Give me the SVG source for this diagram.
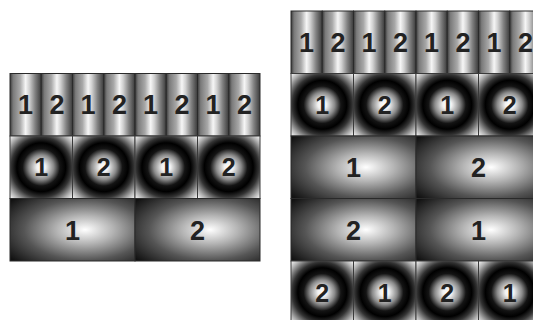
<svg xmlns="http://www.w3.org/2000/svg" width="533" height="320" viewBox="0 0 533 320">
<defs>
<linearGradient id="stripe" x1="0" y1="0" x2="1" y2="0">
<stop offset="0" stop-color="#3a3a3a"/>
<stop offset="0.1" stop-color="#7a7a7a"/>
<stop offset="0.32" stop-color="#a8a8a8"/>
<stop offset="0.5" stop-color="#f6f6f6"/>
<stop offset="0.62" stop-color="#d0d0d0"/>
<stop offset="0.8" stop-color="#828282"/>
<stop offset="1" stop-color="#3a3a3a"/>
</linearGradient>
<radialGradient id="ring" cx="0.5" cy="0.5" r="0.71">
<stop offset="0" stop-color="#ffffff"/>
<stop offset="0.1" stop-color="#f2f2f2"/>
<stop offset="0.28" stop-color="#8a8a8a"/>
<stop offset="0.42" stop-color="#141414"/>
<stop offset="0.55" stop-color="#000000"/>
<stop offset="0.68" stop-color="#333333"/>
<stop offset="0.86" stop-color="#b0b0b0"/>
<stop offset="1" stop-color="#ffffff"/>
</radialGradient>
<radialGradient id="glow" cx="0.6" cy="0.5" r="0.75">
<stop offset="0" stop-color="#ffffff"/>
<stop offset="0.3" stop-color="#b4b4b4"/>
<stop offset="0.65" stop-color="#555555"/>
<stop offset="1" stop-color="#121212"/>
</radialGradient>
</defs>
<style>
.s{fill:url(#stripe);stroke:#2a2a2a;stroke-width:1}
.c{fill:url(#ring);stroke:#3a3a3a;stroke-width:1}
.g{fill:url(#glow);stroke:#2a2a2a;stroke-width:1}
text{font-family:"Liberation Sans",Arial,sans-serif;font-weight:bold;fill:#222;text-anchor:middle}
.t{font-size:27px}
.tc{font-size:25px}
</style>

<g id="left-diagram">
<g id="L-stripes">
<rect class="s" x="10" y="73.5" width="31.25" height="62.5"/><text class="t" x="25.6" y="114">1</text>
<rect class="s" x="41.25" y="73.5" width="31.25" height="62.5"/><text class="t" x="56.9" y="114">2</text>
<rect class="s" x="72.5" y="73.5" width="31.25" height="62.5"/><text class="t" x="88.1" y="114">1</text>
<rect class="s" x="103.75" y="73.5" width="31.25" height="62.5"/><text class="t" x="119.4" y="114">2</text>
<rect class="s" x="135" y="73.5" width="31.25" height="62.5"/><text class="t" x="150.6" y="114">1</text>
<rect class="s" x="166.25" y="73.5" width="31.25" height="62.5"/><text class="t" x="181.9" y="114">2</text>
<rect class="s" x="197.5" y="73.5" width="31.25" height="62.5"/><text class="t" x="213.1" y="114">1</text>
<rect class="s" x="228.75" y="73.5" width="31.25" height="62.5"/><text class="t" x="244.4" y="114">2</text>
</g>
<g id="L-rings">
<rect class="c" x="10" y="136" width="62.5" height="62.5"/><text class="tc" x="41.25" y="176">1</text>
<rect class="c" x="72.5" y="136" width="62.5" height="62.5"/><text class="tc" x="103.75" y="176">2</text>
<rect class="c" x="135" y="136" width="62.5" height="62.5"/><text class="tc" x="166.25" y="176">1</text>
<rect class="c" x="197.5" y="136" width="62.5" height="62.5"/><text class="tc" x="228.75" y="176">2</text>
</g>
<g id="L-glows">
<rect class="g" x="10" y="198.5" width="125" height="62.5"/><text class="t" x="72.5" y="239.5">1</text>
<rect class="g" x="135" y="198.5" width="125" height="62.5"/><text class="t" x="197.5" y="239.5">2</text>
</g>
</g>

<g id="right-diagram">
<g id="R-stripes">
<rect class="s" x="291" y="11" width="31.25" height="62.5"/><text class="t" x="306.6" y="51.5">1</text>
<rect class="s" x="322.25" y="11" width="31.25" height="62.5"/><text class="t" x="337.9" y="51.5">2</text>
<rect class="s" x="353.5" y="11" width="31.25" height="62.5"/><text class="t" x="369.1" y="51.5">1</text>
<rect class="s" x="384.75" y="11" width="31.25" height="62.5"/><text class="t" x="400.4" y="51.5">2</text>
<rect class="s" x="416" y="11" width="31.25" height="62.5"/><text class="t" x="431.6" y="51.5">1</text>
<rect class="s" x="447.25" y="11" width="31.25" height="62.5"/><text class="t" x="462.9" y="51.5">2</text>
<rect class="s" x="478.5" y="11" width="31.25" height="62.5"/><text class="t" x="494.1" y="51.5">1</text>
<rect class="s" x="509.75" y="11" width="31.25" height="62.5"/><text class="t" x="525.4" y="51.5">2</text>
</g>
<g id="R-rings-top">
<rect class="c" x="291" y="73.5" width="62.5" height="62.5"/><text class="tc" x="322.25" y="113.5">1</text>
<rect class="c" x="353.5" y="73.5" width="62.5" height="62.5"/><text class="tc" x="384.75" y="113.5">2</text>
<rect class="c" x="416" y="73.5" width="62.5" height="62.5"/><text class="tc" x="447.25" y="113.5">1</text>
<rect class="c" x="478.5" y="73.5" width="62.5" height="62.5"/><text class="tc" x="509.75" y="113.5">2</text>
</g>
<g id="R-glows-1">
<rect class="g" x="291" y="136" width="125" height="62.5"/><text class="t" x="353.5" y="177">1</text>
<rect class="g" x="416" y="136" width="125" height="62.5"/><text class="t" x="478.5" y="177">2</text>
</g>
<g id="R-glows-2">
<rect class="g" x="291" y="198.5" width="125" height="62.5"/><text class="t" x="353.5" y="239.5">2</text>
<rect class="g" x="416" y="198.5" width="125" height="62.5"/><text class="t" x="478.5" y="239.5">1</text>
</g>
<g id="R-rings-bottom">
<rect class="c" x="291" y="261" width="62.5" height="62.5"/><text class="tc" x="322.25" y="301.5">2</text>
<rect class="c" x="353.5" y="261" width="62.5" height="62.5"/><text class="tc" x="384.75" y="301.5">1</text>
<rect class="c" x="416" y="261" width="62.5" height="62.5"/><text class="tc" x="447.25" y="301.5">2</text>
<rect class="c" x="478.5" y="261" width="62.5" height="62.5"/><text class="tc" x="509.75" y="301.5">1</text>
</g>
</g>
</svg>
